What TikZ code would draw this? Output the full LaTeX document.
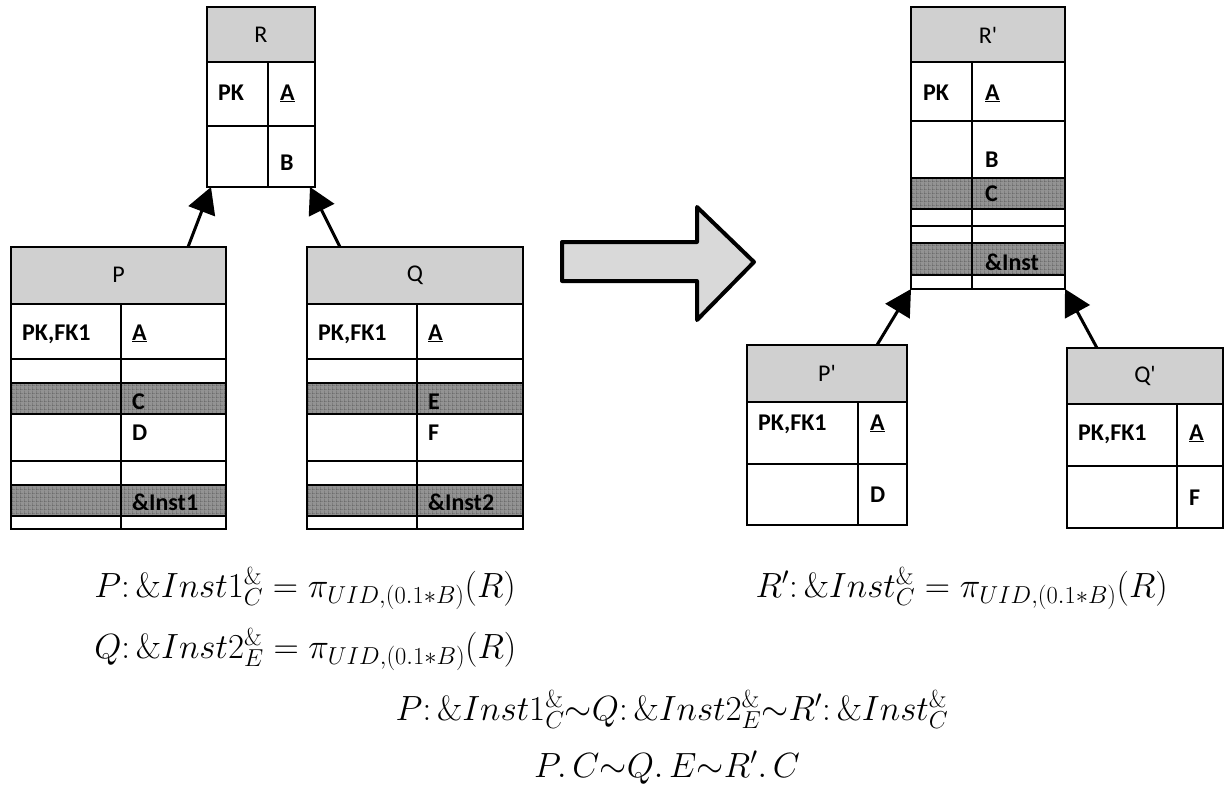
\RequirePackage{fix-cm}
\documentclass[tikz,border=0pt]{standalone}
\usepackage[no-math]{fontspec}
\setmainfont{Carlito}
\usetikzlibrary{arrows.meta,patterns.meta}

\definecolor{hdrgray}{HTML}{D0D0D0}
\definecolor{arrowgray}{HTML}{D9D9D9}
\definecolor{hatchgray}{HTML}{939393}
\definecolor{hatchline}{HTML}{555555}

% fine square mesh used for the highlighted rows
\tikzdeclarepattern{
  name=cellgrid,
  type=uncolored,
  bounding box={(0pt,0pt) and (4pt,4pt)},
  tile size={(4pt,4pt)},
  code={\draw[line width=0.9pt] (0pt,0pt) -- (4pt,0pt) (0pt,0pt) -- (0pt,4pt);}
}

\tikzset{
  frame/.style={draw, line width=2pt, inner sep=0pt, outer sep=0pt, anchor=north west},
  rule/.style={line width=2pt},
  hatch/.style={draw, line width=2pt, preaction={fill=hatchgray}, pattern=cellgrid, pattern color=hatchline},
  cell/.style={anchor=base west, inner sep=0pt, font=\fontsize{24}{28}\selectfont\bfseries},
  title/.style={inner sep=0pt, font=\fontsize{24}{28}\selectfont},
  isa/.style={line width=3pt, -{Triangle[length=26pt,width=28pt]}},
  eq/.style={inner sep=0pt, font=\fontsize{35}{42}\selectfont},
}

\begin{document}
\begin{tikzpicture}[x=1pt,y=-1pt]
\useasboundingbox (0,0) rectangle (1226,798);

% ---------- table R ----------
\fill[hdrgray] (207,7) rectangle (315,62);
\draw[rule] (207,62) -- (315,62);
\draw[rule] (207,126) -- (315,126);
\draw[rule] (268,62) -- (268,187);
\node[frame, minimum width=108pt, minimum height=180pt] (R) at (207,7) {};
\node[title] (Rt) at (261,35) {R};
\node[cell] (Rpk) at (218,100) {PK};
\node[cell] (Ra) at (280,100) {\underline{A}};
\node[cell] (Rb) at (280,170) {B};

% ---------- table P ----------
\fill[hdrgray] (11,247) rectangle (226,304);
\draw[rule] (11,304) -- (226,304);
\draw[rule] (11,359) -- (226,359);
\path[hatch] (11,383) rectangle (226,414);
\draw[rule] (11,461) -- (226,461);
\path[hatch] (11,485) rectangle (226,516);
\draw[rule] (121,304) -- (121,529);
\node[frame, minimum width=215pt, minimum height=282pt] (P) at (11,247) {};
\node[title] (Pt) at (118.5,275) {P};
\node[cell] (Ppk) at (22,340) {PK,FK1};
\node[cell] (Pa) at (132,340) {\underline{A}};
\node[cell] (Pc) at (132,409) {C};
\node[cell] (Pd) at (132,440) {D};
\node[cell] (Pi) at (132,510) {\&Inst1};

% ---------- table Q ----------
\fill[hdrgray] (307,247) rectangle (523,304);
\draw[rule] (307,304) -- (523,304);
\draw[rule] (307,359) -- (523,359);
\path[hatch] (307,383) rectangle (523,414);
\draw[rule] (307,461) -- (523,461);
\path[hatch] (307,485) rectangle (523,516);
\draw[rule] (417,304) -- (417,529);
\node[frame, minimum width=216pt, minimum height=282pt] (Q) at (307,247) {};
\node[title] (Qt) at (415,275) {Q};
\node[cell] (Qpk) at (318,340) {PK,FK1};
\node[cell] (Qa) at (428,340) {\underline{A}};
\node[cell] (Qe) at (428,409) {E};
\node[cell] (Qf) at (428,440) {F};
\node[cell] (Qi) at (428,510) {\&Inst2};

% ---------- table R' ----------
\fill[hdrgray] (911,7) rectangle (1065,62);
\draw[rule] (911,62) -- (1065,62);
\draw[rule] (911,121) -- (1065,121);
\path[hatch] (911,178) rectangle (1065,209);
\draw[rule] (911,226) -- (1065,226);
\path[hatch] (911,243) rectangle (1065,275);
\draw[rule] (972,62) -- (972,289);
\node[frame, minimum width=154pt, minimum height=282pt] (Rp) at (911,7) {};
\node[title] (Rpt) at (988,35) {R\textquotesingle};
\node[cell] (Rppk) at (923,100) {PK};
\node[cell] (Rpa) at (985,100) {\underline{A}};
\node[cell] (Rpb) at (985,167) {B};
\node[cell] (Rpc) at (985,201) {C};
\node[cell] (Rpi) at (985,270) {\&Inst};

% ---------- table P' ----------
\fill[hdrgray] (747,345) rectangle (907,402);
\draw[rule] (747,402) -- (907,402);
\draw[rule] (747,464) -- (907,464);
\draw[rule] (858,402) -- (858,525);
\node[frame, minimum width=160pt, minimum height=180pt] (Pp) at (747,345) {};
\node[title] (Ppt) at (827,373) {P\textquotesingle};
\node[cell] (Pppk) at (758,430) {PK,FK1};
\node[cell] (Ppa) at (870,430) {\underline{A}};
\node[cell] (Ppd) at (870,502) {D};

% ---------- table Q' ----------
\fill[hdrgray] (1067,348) rectangle (1223,404);
\draw[rule] (1067,404) -- (1223,404);
\draw[rule] (1067,466) -- (1223,466);
\draw[rule] (1177,404) -- (1177,528);
\node[frame, minimum width=156pt, minimum height=180pt] (Qp) at (1067,348) {};
\node[title] (Qpt) at (1145,376) {Q\textquotesingle};
\node[cell] (Qppk) at (1078,440) {PK,FK1};
\node[cell] (Qpa) at (1189,440) {\underline{A}};
\node[cell] (Qpf) at (1189,505) {F};

% ---------- inheritance connectors ----------
\draw[isa] ([xshift=69.5pt]P.north) -- ([xshift=4pt]R.south west);
\draw[isa] ([xshift=-75pt]Q.north) -- ([xshift=-5pt]R.south east);
\draw[isa] ([xshift=50pt]Pp.north) -- (Rp.south west);
\draw[isa] ([xshift=-48pt]Qp.north) -- (Rp.south east);

% ---------- transformation arrow ----------
\draw[line width=4pt, line join=round, fill=arrowgray]
  (562,242) -- (697,242) -- (697,207) -- (754,262) -- (697,320)
  -- (697,281) -- (562,281) -- cycle;

% ---------- formulas ----------
\node[eq, anchor=base east] (e1) at (516,597) {$P\colon \&Inst1^{\&}_{C} = \pi_{UID,(0.1*B)}(R)$};
\node[eq, anchor=base east] (e2) at (1168,597) {$R'\colon \&Inst^{\&}_{C} = \pi_{UID,(0.1*B)}(R)$};
\node[eq, anchor=base west] (e3) at ([yshift=-61pt]e1.base west) {$Q\colon \&Inst2^{\&}_{E} = \pi_{UID,(0.1*B)}(R)$};
\node[eq, anchor=base] (e4) at (672,720) {$P\colon \&Inst1^{\&}_{C}{\sim}Q\colon \&Inst2^{\&}_{E}{\sim}R'\colon \&Inst^{\&}_{C}$};
\node[eq, anchor=base] (e5) at (667,777) {$P.\,C{\sim}Q.\,E{\sim}R'.\,C$};
\end{tikzpicture}
\end{document}
